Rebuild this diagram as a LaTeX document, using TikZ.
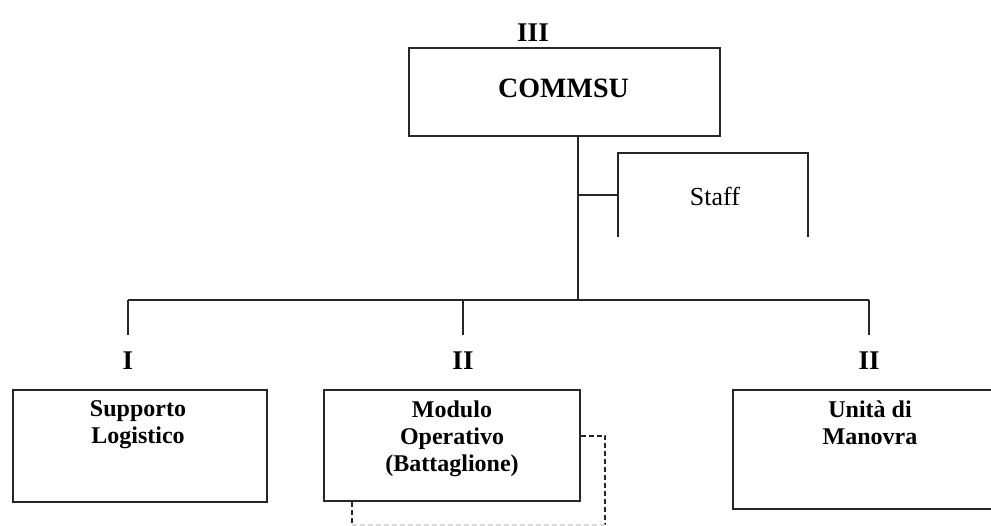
\documentclass[tikz,border=0pt]{standalone}
\usepackage{fontspec}
\setmainfont{Liberation Serif}
\begin{document}
\begin{tikzpicture}[x=1pt,y=-1pt,
    line/.style={draw=black!85, line width=1.6pt},
    unitbox/.style={line, minimum width=#1, inner sep=0pt, anchor=north west},
    rank/.style={font=\fontsize{27}{30}\selectfont\bfseries, inner sep=0pt},
    boxtext/.style={font=\fontsize{24}{27}\selectfont\bfseries, align=center, inner sep=0pt, anchor=north},
    dashline/.style={draw=black!85, line width=1.6pt, dash pattern=on 5pt off 3pt}]
  \useasboundingbox (0,0) rectangle (991,525);
  \clip (0,0) rectangle (991,525);

  % headquarters
  \node[unitbox=311pt, minimum height=88pt] (commsu) at (408,47) {};
  \node[font=\fontsize{28}{30}\selectfont\bfseries, inner sep=0pt] (commsutxt) at (563.5,88) {COMMSU};
  \node[rank] (r3) at (533,33) {III};

  % staff bracket
  \node[minimum width=190pt, minimum height=84pt, inner sep=0pt] (staff) at (713,195) {};
  \node[font=\fontsize{26}{28}\selectfont, inner sep=0pt] (stafftxt) at (715,196) {Staff};
  \draw[line] (staff.south west) -- (staff.north west) -- (staff.north east) -- (staff.south east);

  % subordinate units
  \node[unitbox=254pt, minimum height=112pt] (sl) at (12,389) {};
  \node[unitbox=256pt, minimum height=111pt] (mo) at (323,389) {};
  \node[unitbox=290pt, minimum height=119pt] (um) at (732,389) {};
  \node[boxtext] (sltxt) at (138,400) {Supporto\\Logistico};
  \node[boxtext] (motxt) at (452,401) {Modulo\\Operativo\\(Battaglione)};
  \node[boxtext] (umtxt) at (870,401) {Unità di\\Manovra};

  \node[rank] (r1) at (128,361) {I};
  \node[rank] (r2a) at (463,361) {II};
  \node[rank] (r2b) at (869,361) {II};

  % tree connectors
  \coordinate (bus) at (578,300);
  \coordinate (dI) at (128,335);
  \coordinate (dII) at (463,335);
  \coordinate (dIII) at (869,335);
  \draw[line] (commsu.south -| bus) -- (bus);
  \draw[line] (staff.west -| bus) -- (staff.west);
  \draw[line] (dI |- bus) -- (dIII |- bus);
  \draw[line] (dI |- bus) -- (dI);
  \draw[line] (dII |- bus) -- (dII);
  \draw[line] (dIII |- bus) -- (dIII);

  % dashed links below the battalion
  \coordinate (dashL) at (352,525);
  \coordinate (dashR) at (605,525);
  \draw[dashline] ([yshift=9.5pt]mo.east) -| (dashR);
  \draw[dashline] (mo.south -| dashL) -- (dashL);
  \draw[dashline, draw=black!15, line width=1.2pt] (dashL) -- (dashR);
\end{tikzpicture}
\end{document}
